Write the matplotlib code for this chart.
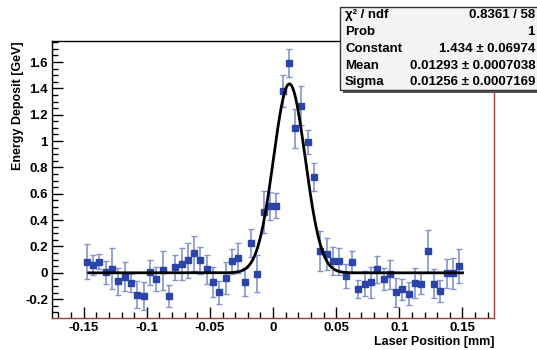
import numpy as np
import matplotlib
matplotlib.use('Agg')
import matplotlib.pyplot as plt
from matplotlib.ticker import MultipleLocator
from matplotlib.patches import Rectangle

plt.rcParams['font.family'] = ['Liberation Sans', 'DejaVu Sans']
plt.rcParams['font.weight'] = 'bold'

# bin centres [mm]
x_pos = np.arange(60) * 0.005 - 0.1475
# energy deposit [GeV] and errors
e_dep = [0.084, 0.058, 0.083, 0.005, 0.030, -0.065, -0.030, -0.078, -0.165, -0.175,
         0.005, -0.045, 0.020, -0.175, 0.041, 0.066, 0.094, 0.147, 0.094, 0.026,
         -0.068, -0.149, -0.038, 0.087, 0.112, -0.068, 0.228, -0.008, 0.461, 0.509,
         0.509, 1.380, 1.590, 1.096, 1.270, 0.995, 0.725, 0.167, 0.142, 0.091,
         0.087, -0.023, 0.081, -0.121, -0.083, -0.071, 0.026, -0.050, -0.012, -0.149,
         -0.126, -0.157, -0.076, -0.081, 0.167, -0.083, -0.137, -0.005, -0.005, 0.050]
e_err = [0.133, 0.076, 0.057, 0.086, 0.156, 0.100, 0.110, 0.071, 0.100, 0.107,
         0.095, 0.090, 0.148, 0.085, 0.095, 0.120, 0.135, 0.130, 0.100, 0.107,
         0.114, 0.089, 0.120, 0.095, 0.116, 0.107, 0.105, 0.140, 0.160, 0.107,
         0.095, 0.125, 0.106, 0.148, 0.145, 0.090, 0.107, 0.152, 0.120, 0.107,
         0.100, 0.092, 0.086, 0.068, 0.096, 0.118, 0.100, 0.083, 0.110, 0.107,
         0.078, 0.089, 0.116, 0.082, 0.160, 0.110, 0.082, 0.107, 0.120, 0.130]

# gaussian fit result
fit_const = 1.434
fit_mean = 0.01293
fit_sigma = 0.01256
fit_range = (-0.146, 0.150)

stat_names = ['\u03c7\u00b2 / ndf', 'Prob', 'Constant', 'Mean', 'Sigma']
stat_vals = ['0.8361 / 58', '1', '1.434 \u00b1 0.06974',
             '0.01293 \u00b1 0.0007038', '0.01256 \u00b1 0.0007169']

fig = plt.figure(figsize=(5.37, 3.5), dpi=100)
ax = fig.add_axes([0.097, 0.091, 0.823, 0.792])

ax.errorbar(x_pos, e_dep, yerr=e_err, fmt='none', ecolor='#8593cc',
            elinewidth=1.2, capsize=2.2, capthick=1.0, zorder=2)
ax.plot(x_pos, e_dep, 's', color='#2a44a8', markersize=4.5, zorder=3)

xf = np.linspace(fit_range[0], fit_range[1], 600)
yf = fit_const * np.exp(-0.5 * ((xf - fit_mean) / fit_sigma) ** 2)
ax.plot(xf, yf, color='black', lw=2.0, zorder=4)

ax.set_xlim(-0.175, 0.175)
ax.set_ylim(-0.344, 1.76)
ax.xaxis.set_minor_locator(MultipleLocator(0.01))
ax.yaxis.set_minor_locator(MultipleLocator(0.05))
xt = [-0.15, -0.1, -0.05, 0, 0.05, 0.1, 0.15]
ax.set_xticks(xt)
ax.set_xticklabels(['-0.15', '-0.1', '-0.05', '0', '0.05', '0.1', '0.15'])
yt = [-0.2, 0, 0.2, 0.4, 0.6, 0.8, 1, 1.2, 1.4, 1.6]
ax.set_yticks(yt)
ax.set_yticklabels(['-0.2', '0', '0.2', '0.4', '0.6', '0.8', '1', '1.2', '1.4', '1.6'])
ax.tick_params(which='both', direction='in', top=False, right=False,
               labelsize=9.5, width=1.0)
ax.tick_params(which='major', length=8)
ax.tick_params(which='minor', length=4)
ax.tick_params(axis='x', which='major', pad=3)
ax.tick_params(axis='y', which='major', pad=3)
for lb in ax.get_xticklabels() + ax.get_yticklabels():
    lb.set_fontweight('bold')

ax.spines['left'].set_color('black')
ax.spines['top'].set_color('black')
ax.spines['bottom'].set_color('#9a4040')
ax.spines['right'].set_color('#9a4040')
for s in ax.spines.values():
    s.set_linewidth(1.0)

ax.set_ylabel('Energy Deposit [GeV]', fontsize=9, fontweight='bold', loc='top', labelpad=1)
ax.set_xlabel('Laser Position [mm]', fontsize=9, fontweight='bold', loc='right', labelpad=1)

# stats box with shadow
bx0, by0, bw, bh = 340 / 537, 1 - 90 / 350, 200 / 537, 83 / 350
fig.patches.append(Rectangle((bx0 + 3 / 537, by0 - 3 / 350), bw, bh, transform=fig.transFigure,
                             facecolor='#555555', edgecolor='none', zorder=10))
fig.patches.append(Rectangle((bx0, by0), bw, bh, transform=fig.transFigure,
                             facecolor='#f4f4f4', edgecolor='#333333', lw=1.0, zorder=11))
row_y = [15, 32, 49, 66, 82]
for name, val, ry in zip(stat_names, stat_vals, row_y):
    fig.text(345 / 537, 1 - ry / 350, name, fontsize=9.5, fontweight='bold',
             va='center', ha='left', zorder=12)
    fig.text(535 / 537, 1 - ry / 350, val, fontsize=9.5, fontweight='bold',
             va='center', ha='right', zorder=12)

fig.savefig('out.png', dpi=100)
